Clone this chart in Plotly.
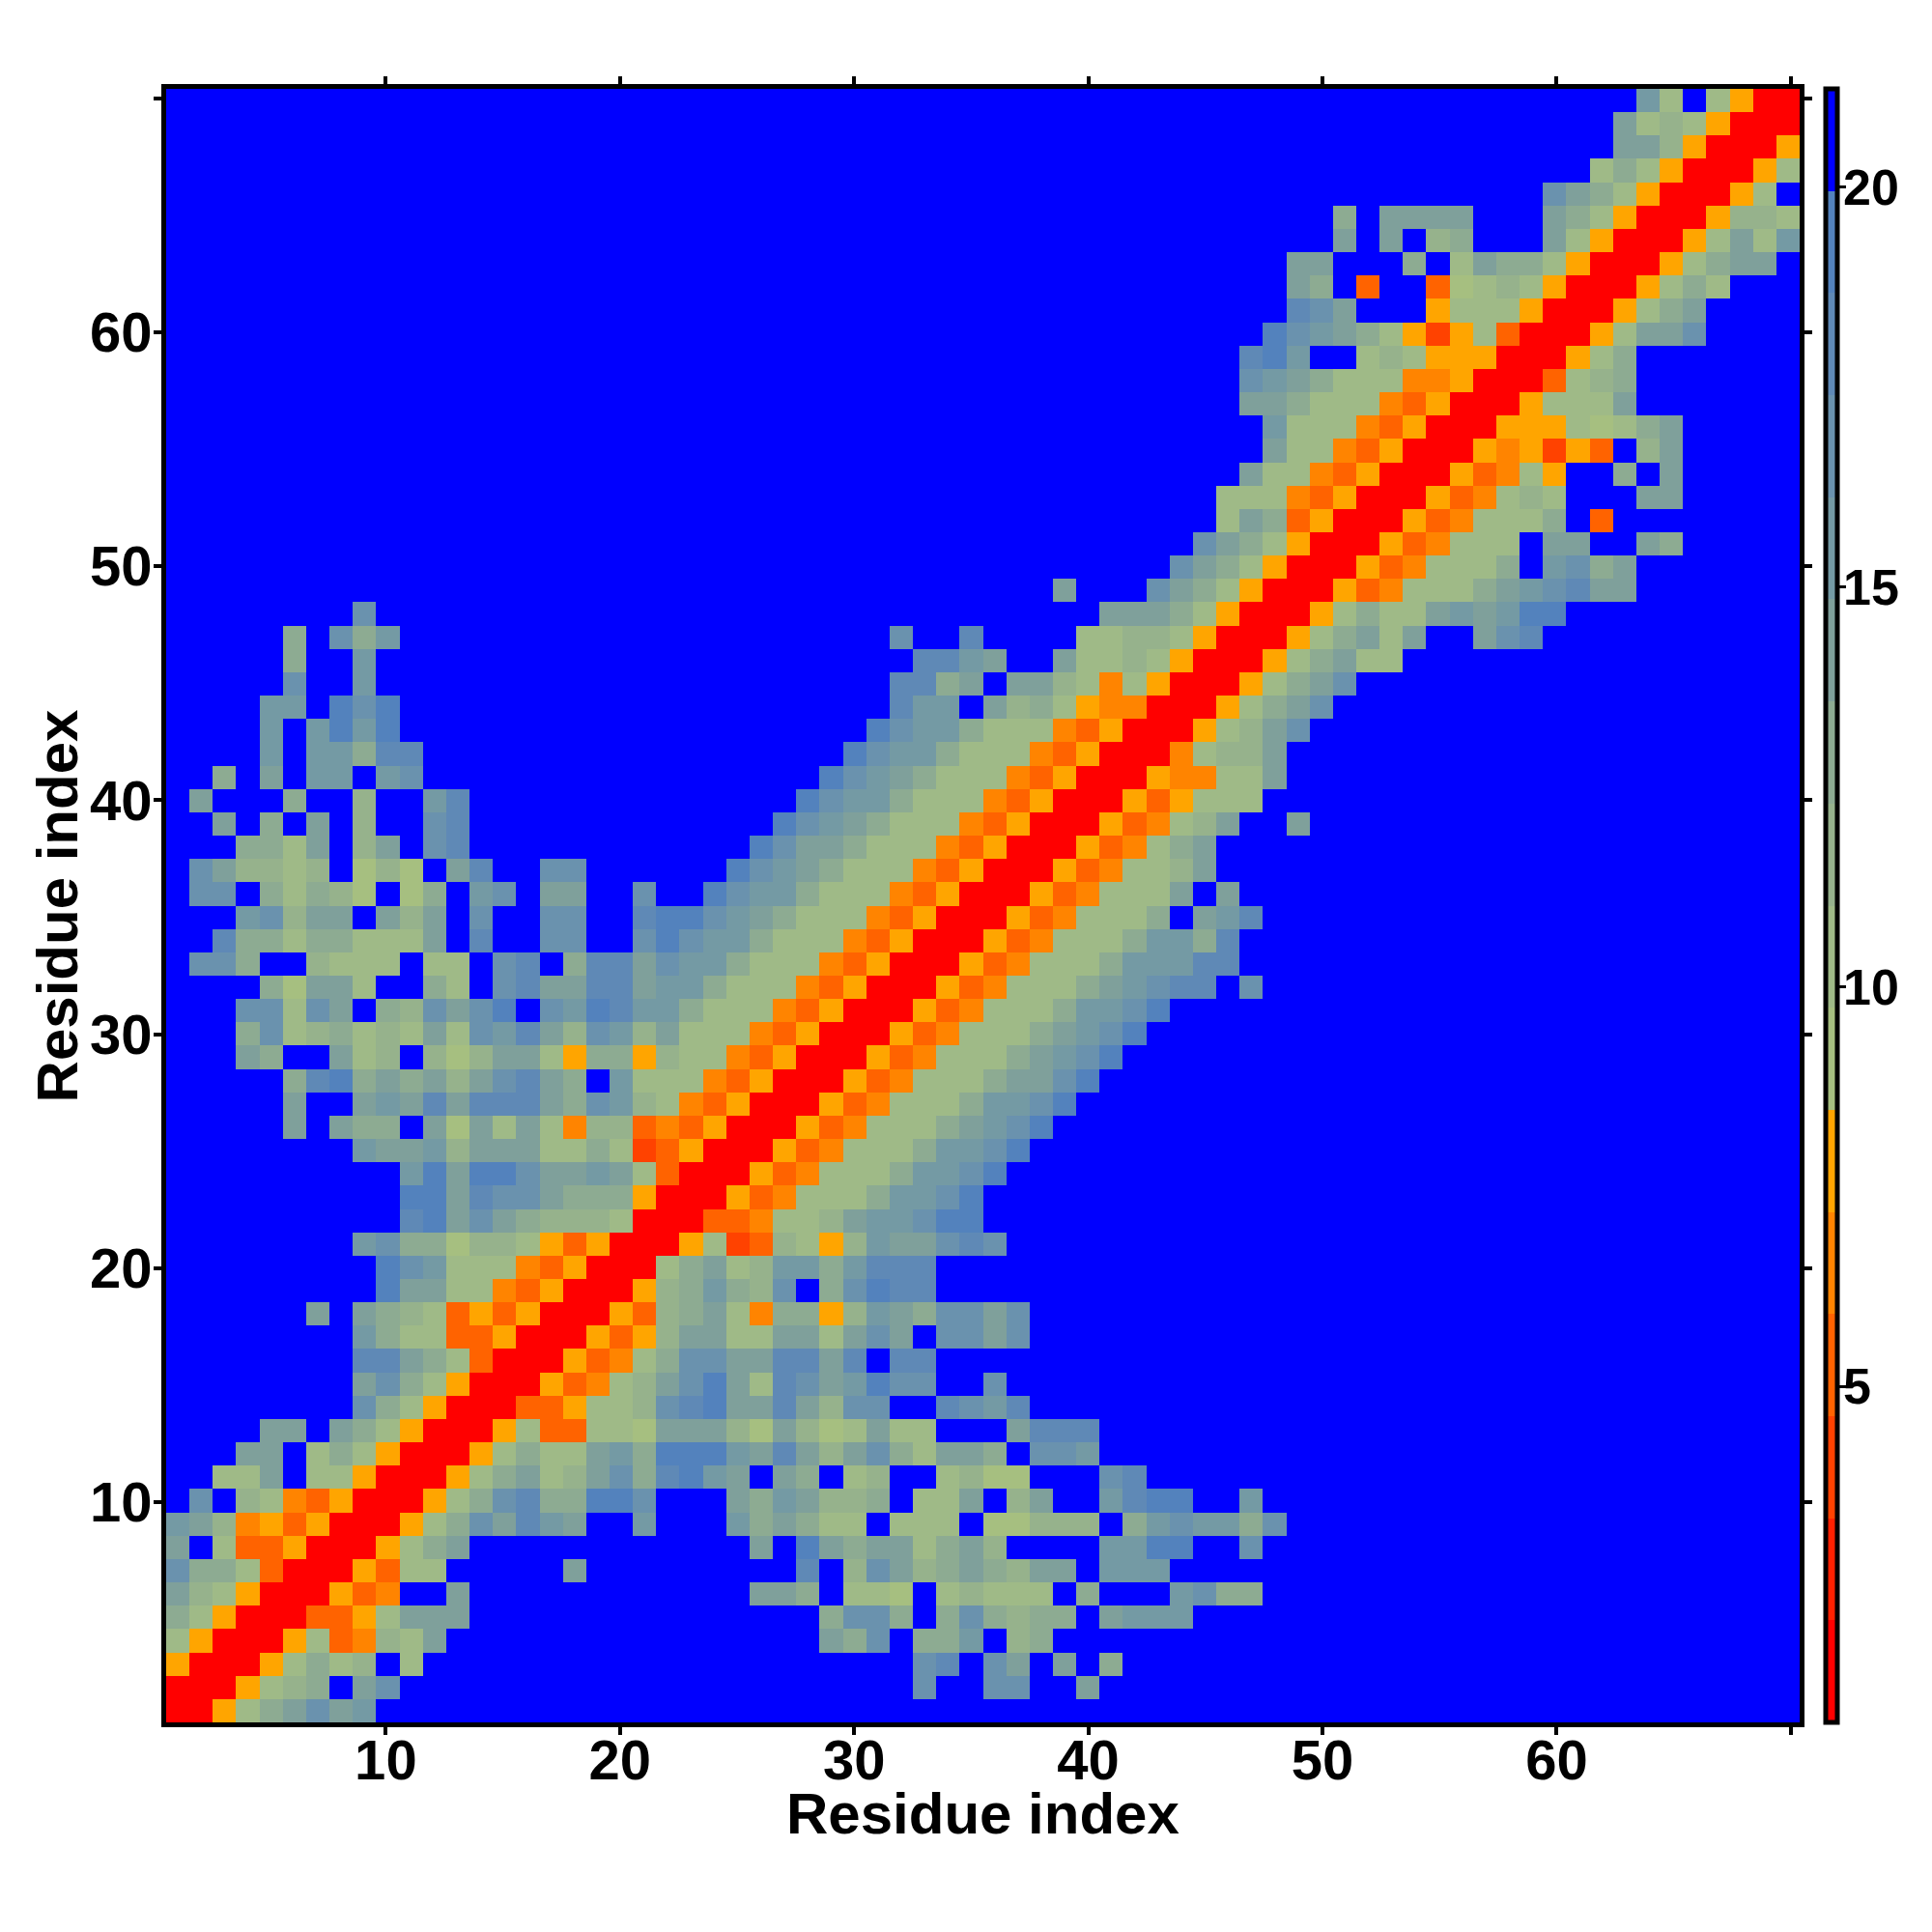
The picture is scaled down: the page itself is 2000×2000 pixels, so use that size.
import numpy as np
import plotly.graph_objects as go

residue_index = list(range(1, 71))
axis_tick_values = [10, 20, 30, 40, 50, 60, 70]
axis_tick_labels = ["10", "20", "30", "40", "50", "60", ""]
x_axis_range = [0.62, 70.38]
y_axis_range = [0.59, 70.40]
colorbar_tick_values = [5, 10, 15, 20]
colorbar_min = 0.8
colorbar_max = 21.23
axis_title = "Residue index"

# distance shown by each colour level (hex digit in the rows below)
level_distance = [1.44, 2.72, 3.99, 5.27, 6.55, 7.82, 9.10, 10.38, 11.65,
                  12.93, 14.21, 15.48, 16.76, 18.04, 19.31, 20.59]
level_colors = ["#ff0000", "#ff2100", "#ff4200", "#ff6300", "#ff8400", "#ffa500",
                "#a6bf80", "#9fba87", "#96b28c", "#8dab92", "#7fa09b", "#749aa4",
                "#6a92ae", "#5f89b6", "#5382bd", "#0000ff"]

# upper triangle, row y: list of (first x, levels from that x); everything else is level f
row_segments = {
    1: [(1, "00579acab")],
    2: [(2, "005789fac"), (33, "c"), (36, "cc"), (40, "a")],
    3: [(3, "0057978f7"), (33, "cd"), (36, "ca"), (39, "a"), (41, "9")],
    4: [(4, "00573487a"), (29, "a9c"), (33, "99b"), (37, "89")],
    5: [(5, "003357aaa"), (29, "9cc9"), (34, "9c9899"), (41, "abbb")],
    6: [(6, "00534ffa"), (26, "aa9"), (30, "776"), (34, "78777"), (40, "9"), (44, "bc99")],
    7: [(7, "005377"), (18, "a"), (28, "d"), (30, "8ca89a98aa"), (41, "bbb")],
    8: [(8, "00579a"), (26, "a"), (28, "ea9aa79a8"), (41, "bbee"), (47, "c")],
    9: [(9, "00579cadba"), (21, "b"), (25, "b9a977"), (32, "777"), (36, "66888"), (42, "9bcbb9c")],
    10: [(10, "00579cd99eec"), (25, "a9ba889"), (33, "77a"), (37, "8a"), (41, "bdee"), (47, "b")],
    11: [(11, "00579a78ac9deba"), (27, "a9"), (30, "78"), (34, "7866"), (41, "cd")],
    12: [(12, "0057977ab9eeebada8ac97aa9"), (38, "ccb")],
    13: [(13, "005733776aaa86a867a77"), (37, "addd")],
    14: [(14, "00335778cdeaada8cc"), (34, "dcbd")],
    15: [(15, "0053478acea7dcabecc"), (36, "c")],
    16: [(16, "0053479ccaaddad"), (32, "dd")],
    17: [(17, "005358aa77aa7aca"), (34, "ccac")],
    18: [(18, "005389a749958ba9ccac")],
    19: [(19, "00589b98cf9cedd")],
    20: [(20, "0079a78bb9bddd")],
    21: [(21, "0057238758baacdc")],
    22: [(22, "00334778abbcee")],
    23: [(23, "005347779bbce")],
    24: [(24, "005347779bbce")],
    25: [(25, "005347779bbce")],
    26: [(26, "005347779abce")],
    27: [(27, "005347779bbce")],
    28: [(28, "005347779aace")],
    29: [(29, "005347779abce")],
    30: [(30, "005347779abce")],
    31: [(31, "005347779bbce")],
    32: [(32, "005347779abcdd"), (47, "c")],
    33: [(33, "005347779bbbdd")],
    34: [(34, "005347779bb9d")],
    35: [(35, "005347779"), (45, "abd")],
    36: [(36, "00534777a"), (46, "a")],
    37: [(37, "00534778a")],
    38: [(38, "0053479a")],
    39: [(39, "0053478a"), (49, "a")],
    40: [(40, "00535777")],
    41: [(41, "0054477a")],
    42: [(42, "004788a")],
    43: [(43, "00578ac")],
    44: [(44, "00579ac")],
    45: [(45, "00579ac")],
    46: [(46, "00579a77")],
    47: [(47, "00579a7a"), (57, "acd")],
    48: [(48, "0057977ababee")],
    49: [(49, "005347779abcdaa")],
    50: [(50, "005347779fbc9a")],
    51: [(51, "00534777faaffa9")],
    52: [(52, "005347779f3")],
    53: [(53, "00534787"), (64, "aa")],
    54: [(54, "0053475"), (63, "9fa")],
    55: [(55, "00545253f8a")],
    56: [(56, "005557679a")],
    57: [(57, "005777a")],
    58: [(58, "003789")],
    59: [(59, "00579")],
    60: [(60, "0057aac")],
    61: [(61, "00579a")],
    62: [(62, "005797")],
    63: [(63, "00579aa")],
    64: [(64, "0057a7b")],
    65: [(65, "005887")],
    66: [(66, "0057")],
    67: [(67, "0057")],
    68: [(68, "005")],
    69: [(69, "00")],
    70: [(70, "0")],
}

n = len(residue_index)
levels = np.full((n, n), 15, dtype=int)
for y, segments in row_segments.items():
    for start, codes in segments:
        for offset, code in enumerate(codes):
            x = start + offset
            levels[y - 1, x - 1] = int(code, 16)
            levels[x - 1, y - 1] = int(code, 16)
z = np.array(level_distance)[levels]

colorscale = []
for k, c in enumerate(level_colors):
    colorscale += [[k / 16, c], [(k + 1) / 16, c]]

FONT = "Liberation Sans"
BOLD = dict(family=FONT, color="black", weight="bold")

# the map is drawn slightly inside its axis frame, so cells fill the visible range
fig = go.Figure(go.Heatmap(
    x=np.linspace(x_axis_range[0], x_axis_range[1], n + 1),
    y=np.linspace(y_axis_range[0], y_axis_range[1], n + 1),
    z=z,
    zmin=colorbar_min, zmax=colorbar_max, colorscale=colorscale,
    colorbar=dict(
        thicknessmode="pixels", thickness=12, lenmode="fraction", len=1.0,
        x=1.0157, xanchor="left", xref="paper", y=0.5, yanchor="middle", ypad=0, xpad=0,
        outlinecolor="black", outlinewidth=5, borderwidth=0,
        tickmode="array", tickvals=colorbar_tick_values, ticks="outside",
        ticklen=7, tickwidth=3, tickcolor="black", showticklabels=False,
    ),
))
axis_common = dict(
    tickmode="array", tickvals=axis_tick_values, ticktext=axis_tick_labels,
    ticks="outside", ticklen=8, tickwidth=4, tickcolor="black",
    showline=True, linecolor="black", linewidth=5, mirror="ticks",
    showgrid=False, zeroline=False, automargin=False,
    tickfont=dict(size=58, **BOLD),
)
fig.update_xaxes(**axis_common, range=x_axis_range, ticklabelstandoff=-24)
fig.update_yaxes(**axis_common, range=y_axis_range, ticklabelstandoff=-10)
for v in colorbar_tick_values:
    fig.add_annotation(text=str(v), xref="paper", yref="paper", showarrow=False,
                       x=1.0261, xanchor="left",
                       y=(v - colorbar_min) / (colorbar_max - colorbar_min), yanchor="middle",
                       borderpad=0, font=dict(size=52, **BOLD))
fig.add_annotation(text=axis_title, xref="paper", yref="paper", showarrow=False,
                   x=0.5, xanchor="center", y=-0.0559, yanchor="middle",
                   font=dict(size=60, **BOLD))
fig.add_annotation(text=axis_title, xref="paper", yref="paper", showarrow=False, textangle=-90,
                   x=-0.0663, xanchor="center", y=0.5, yanchor="middle",
                   font=dict(size=60, **BOLD))
fig.update_layout(width=2000, height=2000, paper_bgcolor="white", plot_bgcolor="white",
                  margin=dict(l=172, r=137, t=92, b=217, autoexpand=False))
fig.write_html("out.html", config=dict(displayModeBar=False),
               post_script="document.body.style.margin='0';")
